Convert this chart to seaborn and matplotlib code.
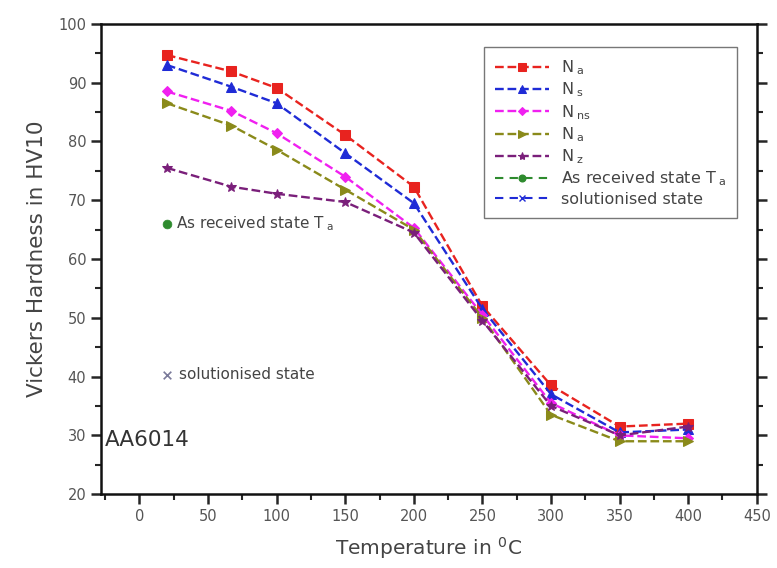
import numpy as np
import pandas as pd
import matplotlib
matplotlib.use('Agg')
import matplotlib.pyplot as plt
import seaborn as sns
from matplotlib.ticker import MultipleLocator

# temperatures (deg C) and hardness values
temps = [20, 67, 100, 150, 200, 250, 300, 350, 400]
n_a = [94.7, 91.9, 89.1, 81.1, 72.3, 52.0, 38.5, 31.5, 32.0]
n_s = [93.0, 89.3, 86.5, 78.0, 69.5, 51.5, 37.0, 30.5, 31.0]
n_ns = [88.5, 85.2, 81.4, 74.0, 65.3, 50.5, 35.5, 30.0, 29.5]
n_e = [86.5, 82.7, 78.6, 71.8, 65.0, 50.0, 33.5, 29.0, 29.0]
n_z = [75.5, 72.3, 71.1, 69.7, 64.5, 49.5, 35.0, 30.0, 31.5]
labels = [r'N$_{\ a}$', r'N$_{\ s}$', r'N$_{\ ns}$', r'N$_{\ a}$', r'N$_{\ z}$']

received_x, received_y = [20], [66.0]
solution_x, solution_y = [20], [40.3]

sns.set_style('ticks')
plt.rcParams['font.family'] = ['DejaVu Sans']
plt.rcParams['mathtext.default'] = 'regular'

fig = plt.figure(figsize=(7.77, 5.68), dpi=100)
ax = fig.add_axes([0.130, 0.130, 0.844, 0.828])

series = [n_a, n_s, n_ns, n_e, n_z]
colors = ['#e8231f', '#1f2bd6', '#f020f0', '#8a8a1a', '#7a1f7a']
markers = ['s', '^', 'D', '>', '*']
msizes = [6.5, 6.5, 5.5, 6.5, 7.5]
for vals, lab, c, m, ms in zip(series, labels, colors, markers, msizes):
    sns.lineplot(x=temps, y=vals, ax=ax, color=c, marker=m, markersize=ms,
                 markeredgecolor=c, linestyle='--', linewidth=1.7,
                 dashes=(4, 3), label=lab)

# the two reference states
sns.scatterplot(x=received_x, y=received_y, ax=ax, color='#2e8b2e', marker='o',
                s=40, edgecolor='#2e8b2e', zorder=5)
sns.scatterplot(x=solution_x, y=solution_y, ax=ax, color='#7a7a9a', marker='x',
                s=30, linewidth=1.2, zorder=5)
ax.plot([], [], color='#2e8b2e', marker='o', linestyle='--', dashes=(4, 3),
        label=r'As received state T$_{\ a}$')
ax.plot([], [], color='#1f2bd6', marker='x', linestyle='--', dashes=(4, 3),
        label='solutionised state')

ax.text(27, 66.0, r'As received state T$_{\ a}$', fontsize=11, color='#444444',
        va='center')
ax.text(29, 40.3, 'solutionised state', fontsize=11, color='#444444',
        va='center')
ax.text(-25, 29.2, 'AA6014', fontsize=15.5, color='#333333', va='center')

ax.set_xlim(-28, 450)
ax.set_ylim(20, 100)
ax.xaxis.set_major_locator(MultipleLocator(50))
ax.xaxis.set_minor_locator(MultipleLocator(25))
ax.yaxis.set_major_locator(MultipleLocator(10))
ax.yaxis.set_minor_locator(MultipleLocator(5))
ax.tick_params(which='major', length=7, width=1.8, labelsize=10.5,
               labelcolor='#555555', right=True, direction='out')
ax.tick_params(which='minor', length=4, width=1.5, right=True, direction='out')
for sp in ax.spines.values():
    sp.set_visible(True)
    sp.set_linewidth(1.8)
    sp.set_color('#111111')

ax.set_xlabel(r'Temperature in $^{0}$C', fontsize=14.5, color='#444444',
              labelpad=8)
ax.set_ylabel('Vickers Hardness in HV10', fontsize=15.5, color='#444444',
              labelpad=8)

leg = ax.legend(loc='upper right', bbox_to_anchor=(0.97, 0.95), fontsize=11.5,
                frameon=True, fancybox=False, edgecolor='#555555',
                handlelength=3.4, handletextpad=0.7, labelspacing=0.22,
                borderpad=0.7, borderaxespad=0, markerscale=0.8)
for t in leg.get_texts():
    t.set_color('#444444')
leg.get_frame().set_linewidth(1.0)

fig.savefig('out.png', dpi=100)
